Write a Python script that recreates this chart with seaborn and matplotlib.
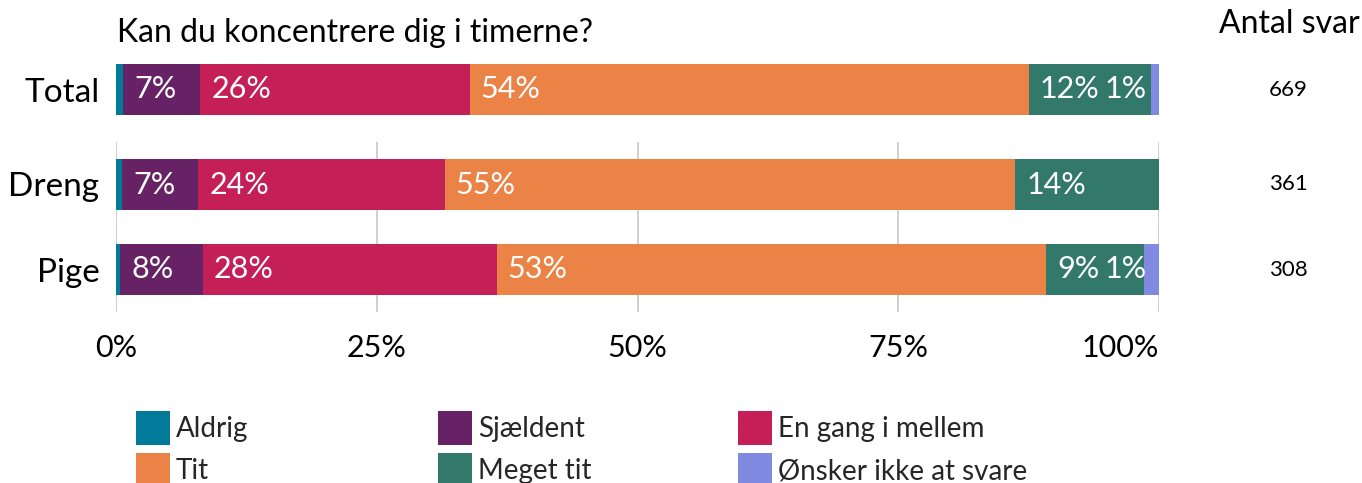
import matplotlib
matplotlib.use("Agg")
import matplotlib.pyplot as plt
from matplotlib.patches import Patch
import seaborn as sns
import pandas as pd
import numpy as np

sns.set_theme(style="white")
plt.rcParams["font.family"] = ["Lato", "DejaVu Sans"]

title = "Kan du koncentrere dig i timerne?"
categories = ["Aldrig", "Sjældent", "En gang i mellem", "Tit", "Meget tit",
              "Ønsker ikke at svare"]
colors = ["#027b9b", "#672265", "#c41f56", "#eb8246", "#32786b", "#7f8ae0"]

groups = ["Total", "Dreng", "Pige"]
total_vals = [0.7, 7.4, 25.8, 53.6, 11.7, 0.8]
dreng_vals = [0.6, 7.3, 23.6, 54.7, 13.8, 0.0]
pige_vals = [0.4, 7.9, 28.2, 52.7, 9.4, 1.4]
counts = [669, 361, 308]
xticks = [0, 25, 50, 75, 100]
xtick_labels = ["0%", "25%", "50%", "75%", "100%"]

values = {"Total": total_vals, "Dreng": dreng_vals, "Pige": pige_vals}
rows = []
for g in groups:
    cum = np.cumsum(values[g])
    for i, c in enumerate(categories):
        rows.append({"group": g, "category": c, "value": values[g][i],
                     "left": cum[i] - values[g][i], "cum": cum[i]})
df = pd.DataFrame(rows)

W, H = 1362, 483
fig = plt.figure(figsize=(W / 100, H / 100), dpi=100)

def px_axes(left, top, right, bottom):
    return fig.add_axes([left / W, 1 - bottom / H, (right - left) / W, (bottom - top) / H])

ax_top = px_axes(116, 47, 1159, 132)
ax_bot = px_axes(116, 142, 1159, 312)

panels = [(ax_top, ["Total"]), (ax_bot, ["Dreng", "Pige"])]

for ax, grp in panels:
    sub = df[df["group"].isin(grp)]
    # stacked bars: draw cumulative totals from the last category to the first
    for cat, col in reversed(list(zip(categories, colors))):
        d = sub[sub["category"] == cat]
        sns.barplot(data=d, x="cum", y="group", order=grp, color=col,
                    orient="h", width=0.6, ax=ax, saturation=1,
                    linewidth=0, errorbar=None)
    for _, r in sub.iterrows():
        if r["value"] < 0.75:
            continue
        yi = grp.index(r["group"])
        txt = f"{r['value']:.0f}%"
        if r["cum"] >= 99.99 and r["value"] < 3:
            ax.annotate(txt, (100, yi), xytext=(-9, 0), textcoords="offset points",
                        ha="right", va="center", color="white", fontsize=22)
        else:
            ax.annotate(txt, (r["left"], yi), xytext=(8, 0), textcoords="offset points",
                        ha="left", va="center", color="white", fontsize=22)
    ax.set_xlim(0, 100)
    ax.set_ylim(len(grp) - 0.5, -0.5)
    ax.set_xlabel("")
    ax.set_ylabel("")
    for s in ax.spines.values():
        s.set_visible(False)
    ax.tick_params(axis="y", length=0, pad=12, labelsize=24, labelcolor="black")
    ax.set_facecolor("none")

ax_top.set_xticks([])
ax_bot.set_xticks(xticks)
ax_bot.set_xticklabels(xtick_labels)
ax_bot.tick_params(axis="x", length=0, pad=16, labelsize=22, labelcolor="black")
ax_bot.get_xticklabels()[-1].set_horizontalalignment("right")
ax_bot.grid(axis="x", color="#cccccc", linewidth=1.3)
ax_bot.set_axisbelow(True)

# response counts to the right of the bars
for ax, grp in panels:
    for g in grp:
        ax.text(1.1237, grp.index(g), str(counts[groups.index(g)]),
                transform=ax.get_yaxis_transform(), ha="center", va="center",
                fontsize=16, color="black")

fig.text(117 / W, 1 - 33 / H, title, ha="left", va="center", fontsize=23, color="black")
fig.text(1289 / W, 1 - 24 / H, "Antal svar", ha="center", va="center", fontsize=23,
         color="black")

# legend: three columns of two entries
col_x = [136, 438, 738]
for j, x in enumerate(col_x):
    idx = [j, j + 3]
    handles = [Patch(facecolor=colors[i], edgecolor="none") for i in idx]
    fig.legend(handles, [categories[i] for i in idx], loc="upper left",
               bbox_to_anchor=(x / W, 1 - 411 / H), frameon=False, fontsize=20,
               handlelength=1.22, handleheight=1.5, handletextpad=0.22,
               labelspacing=0.29, borderpad=0, borderaxespad=0)

fig.savefig("out.png", dpi=100)
